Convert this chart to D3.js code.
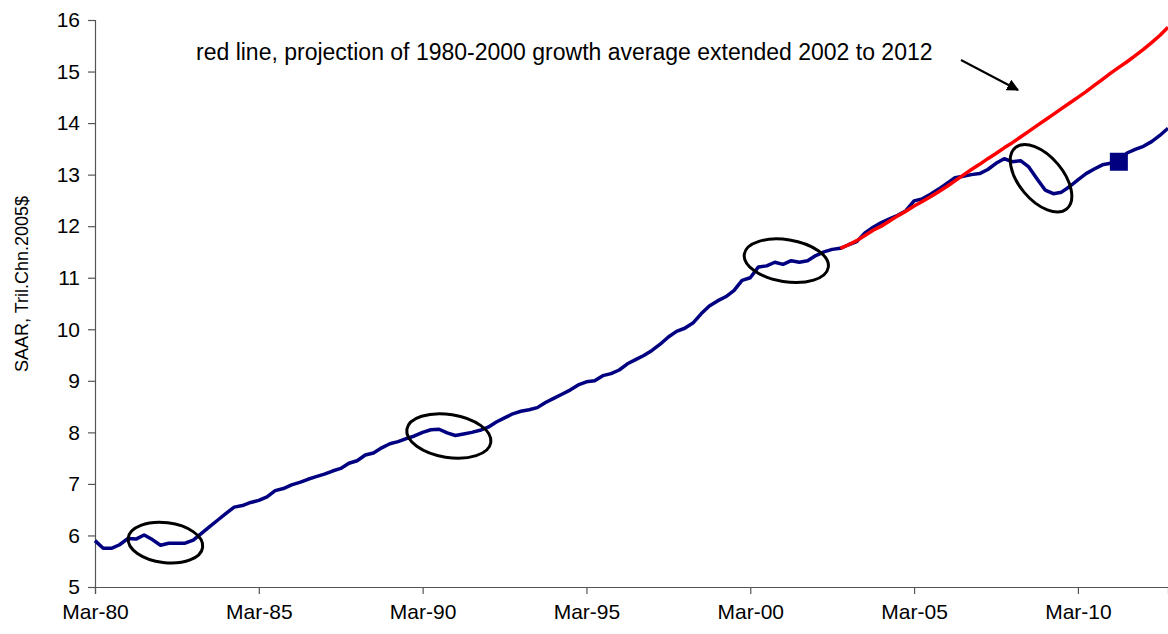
<!DOCTYPE html>
<html>
<head>
<meta charset="utf-8">
<script src="https://cdn.jsdelivr.net/npm/d3@7"></script>
<style>
  html, body { margin: 0; padding: 0; background: #fff; }
  svg { display: block; font-family: "Liberation Sans", Arial, sans-serif; }
</style>
</head>
<body>
<svg id="chart" width="1168" height="634"></svg>
<script>
// ---- data ----
const startYear = 1980;
const monthNames = ["Mar", "Jun", "Sep", "Dec"];
const categories = [];
for (let yr = startYear; yr <= 2012; yr++) {
  for (let q = 0; q < 4; q++) {
    categories.push(monthNames[q] + "-" + String(yr % 100).padStart(2, "0"));
  }
}

const gdp = [
  5.90, 5.75, 5.75, 5.82, 5.94, 5.93, 6.01, 5.92, 5.81, 5.85,
  5.85, 5.85, 5.91, 6.04, 6.17, 6.30, 6.43, 6.55, 6.58, 6.64,
  6.68, 6.75, 6.87, 6.91, 6.98, 7.03, 7.09, 7.14, 7.19, 7.25,
  7.30, 7.40, 7.45, 7.56, 7.60, 7.70, 7.78, 7.82, 7.88, 7.93,
  8.00, 8.05, 8.06, 7.99, 7.94, 7.97, 8.00, 8.04, 8.10, 8.20,
  8.28, 8.36, 8.41, 8.44, 8.48, 8.58, 8.66, 8.74, 8.82, 8.92,
  8.98, 9.00, 9.10, 9.14, 9.21, 9.33, 9.41, 9.49, 9.59, 9.71,
  9.85, 9.96, 10.02, 10.12, 10.30, 10.45, 10.55, 10.63, 10.75, 10.95,
  11.00, 11.21, 11.23, 11.30, 11.26, 11.33, 11.30, 11.33, 11.43, 11.50,
  11.55, 11.57, 11.64, 11.70, 11.87, 11.98, 12.07, 12.14, 12.21, 12.30,
  12.49, 12.53, 12.62, 12.72, 12.83, 12.94, 12.97, 13.00, 13.02, 13.10,
  13.22, 13.31, 13.25, 13.27, 13.15, 12.92, 12.70, 12.63, 12.66, 12.77,
  12.90, 13.02, 13.11, 13.19, 13.22, 13.25, 13.42, 13.49, 13.55, 13.64,
  13.76, 13.90
];

// projection starts at Dec-02
const projectionStart = "Dec-02";
const projection = [
  11.57, 11.64, 11.72, 11.82, 11.92, 12.00, 12.10, 12.20, 12.29, 12.39,
  12.48, 12.57, 12.67, 12.77, 12.88, 12.99, 13.10, 13.20, 13.31, 13.41,
  13.52, 13.62, 13.73, 13.84, 13.95, 14.06, 14.17, 14.28, 14.39, 14.50,
  14.61, 14.73, 14.85, 14.97, 15.08, 15.19, 15.31, 15.43, 15.56, 15.70,
  15.86
];

const markerCategory = "Jun-11";
const xTickLabels = ["Mar-80", "Mar-85", "Mar-90", "Mar-95", "Mar-00", "Mar-05", "Mar-10"];
const yTicks = [5, 6, 7, 8, 9, 10, 11, 12, 13, 14, 15, 16];
const yLabel = "SAAR, Tril.Chn.2005$";
const annotation = "red line, projection of 1980-2000 growth average extended 2002 to 2012";

// circled episodes: [quarters after Mar-80 at centre, value at centre, rx, ry, rotation]
const circles = [
  [8.6, 5.86, 37.5, 20, 7],
  [43.2, 7.93, 42.5, 21.5, 9],
  [84.4, 11.33, 42.5, 21, 9],
  [115.5, 12.93, 40, 22, 50]
];

// ---- layout ----
const svg = d3.select("#chart");
const plotLeft = 95, plotRight = 1168, plotTop = 20, plotBottom = 587;

const x = d3.scalePoint().domain(categories).range([plotLeft, plotRight]);
const y = d3.scaleLinear().domain([5, 16]).range([plotBottom, plotTop]);
const xq = q => x(categories[0]) + q * x.step();

const axisColor = "#555";
const fontFam = "'Liberation Sans', Arial, sans-serif";

// y axis
const yAxis = svg.append("g")
  .attr("transform", `translate(${plotLeft},0)`)
  .call(d3.axisLeft(y).tickValues(yTicks).tickSize(7).tickPadding(8).tickFormat(d3.format("d")));
yAxis.select(".domain").attr("stroke", axisColor).attr("stroke-width", 1.2);
yAxis.selectAll(".tick line").attr("stroke", axisColor).attr("stroke-width", 1.2);
yAxis.selectAll(".tick text").attr("font-size", 21).attr("fill", "#000").attr("font-family", fontFam);

// x axis
const xAxis = svg.append("g")
  .attr("transform", `translate(0,${plotBottom})`)
  .call(d3.axisBottom(x).tickValues(xTickLabels).tickSize(7).tickPadding(10));
xAxis.select(".domain").attr("stroke", axisColor).attr("stroke-width", 1.2);
xAxis.selectAll(".tick line").attr("stroke", axisColor).attr("stroke-width", 1.2);
xAxis.selectAll(".tick text").attr("font-size", 21).attr("fill", "#000").attr("font-family", fontFam);

// y label
svg.append("text")
  .attr("transform", `translate(28,284) rotate(-90)`)
  .attr("text-anchor", "middle")
  .attr("font-size", 18)
  .text(yLabel);

// series
const line = d3.line()
  .x(d => x(d.c))
  .y(d => y(d.v));

const gdpData = gdp.map((v, i) => ({ c: categories[i], v }));
const pStart = categories.indexOf(projectionStart);
const projData = projection.map((v, i) => ({ c: categories[pStart + i], v }));

svg.append("path")
  .datum(gdpData)
  .attr("fill", "none")
  .attr("stroke", "#000080")
  .attr("stroke-width", 3.5)
  .attr("stroke-linejoin", "round")
  .attr("d", line);

svg.append("path")
  .datum(projData)
  .attr("fill", "none")
  .attr("stroke", "#FF0000")
  .attr("stroke-width", 3.5)
  .attr("stroke-linejoin", "round")
  .attr("d", line);

// marker
const mi = categories.indexOf(markerCategory);
svg.append("rect")
  .attr("x", x(markerCategory) - 9)
  .attr("y", y(gdp[mi]) - 9)
  .attr("width", 18)
  .attr("height", 18)
  .attr("fill", "#000080");

// ellipses
svg.selectAll("ellipse.circ")
  .data(circles)
  .join("ellipse")
  .attr("class", "circ")
  .attr("transform", d => `translate(${xq(d[0])},${y(d[1])}) rotate(${d[4]})`)
  .attr("rx", d => d[2])
  .attr("ry", d => d[3])
  .attr("fill", "none")
  .attr("stroke", "#000")
  .attr("stroke-width", 3);

// annotation
svg.append("text")
  .attr("x", 196)
  .attr("y", 60)
  .attr("font-size", 23)
  .text(annotation);

// arrow
svg.append("defs").append("marker")
  .attr("id", "arrowhead")
  .attr("viewBox", "0 0 10 10")
  .attr("refX", 9).attr("refY", 5)
  .attr("markerWidth", 6).attr("markerHeight", 6)
  .attr("orient", "auto")
  .append("path")
  .attr("d", "M0,0 L10,5 L0,10 Z")
  .attr("fill", "#000");

svg.append("line")
  .attr("x1", 961).attr("y1", 60)
  .attr("x2", 1018).attr("y2", 90)
  .attr("stroke", "#000")
  .attr("stroke-width", 2)
  .attr("marker-end", "url(#arrowhead)");
</script>
</body>
</html>
